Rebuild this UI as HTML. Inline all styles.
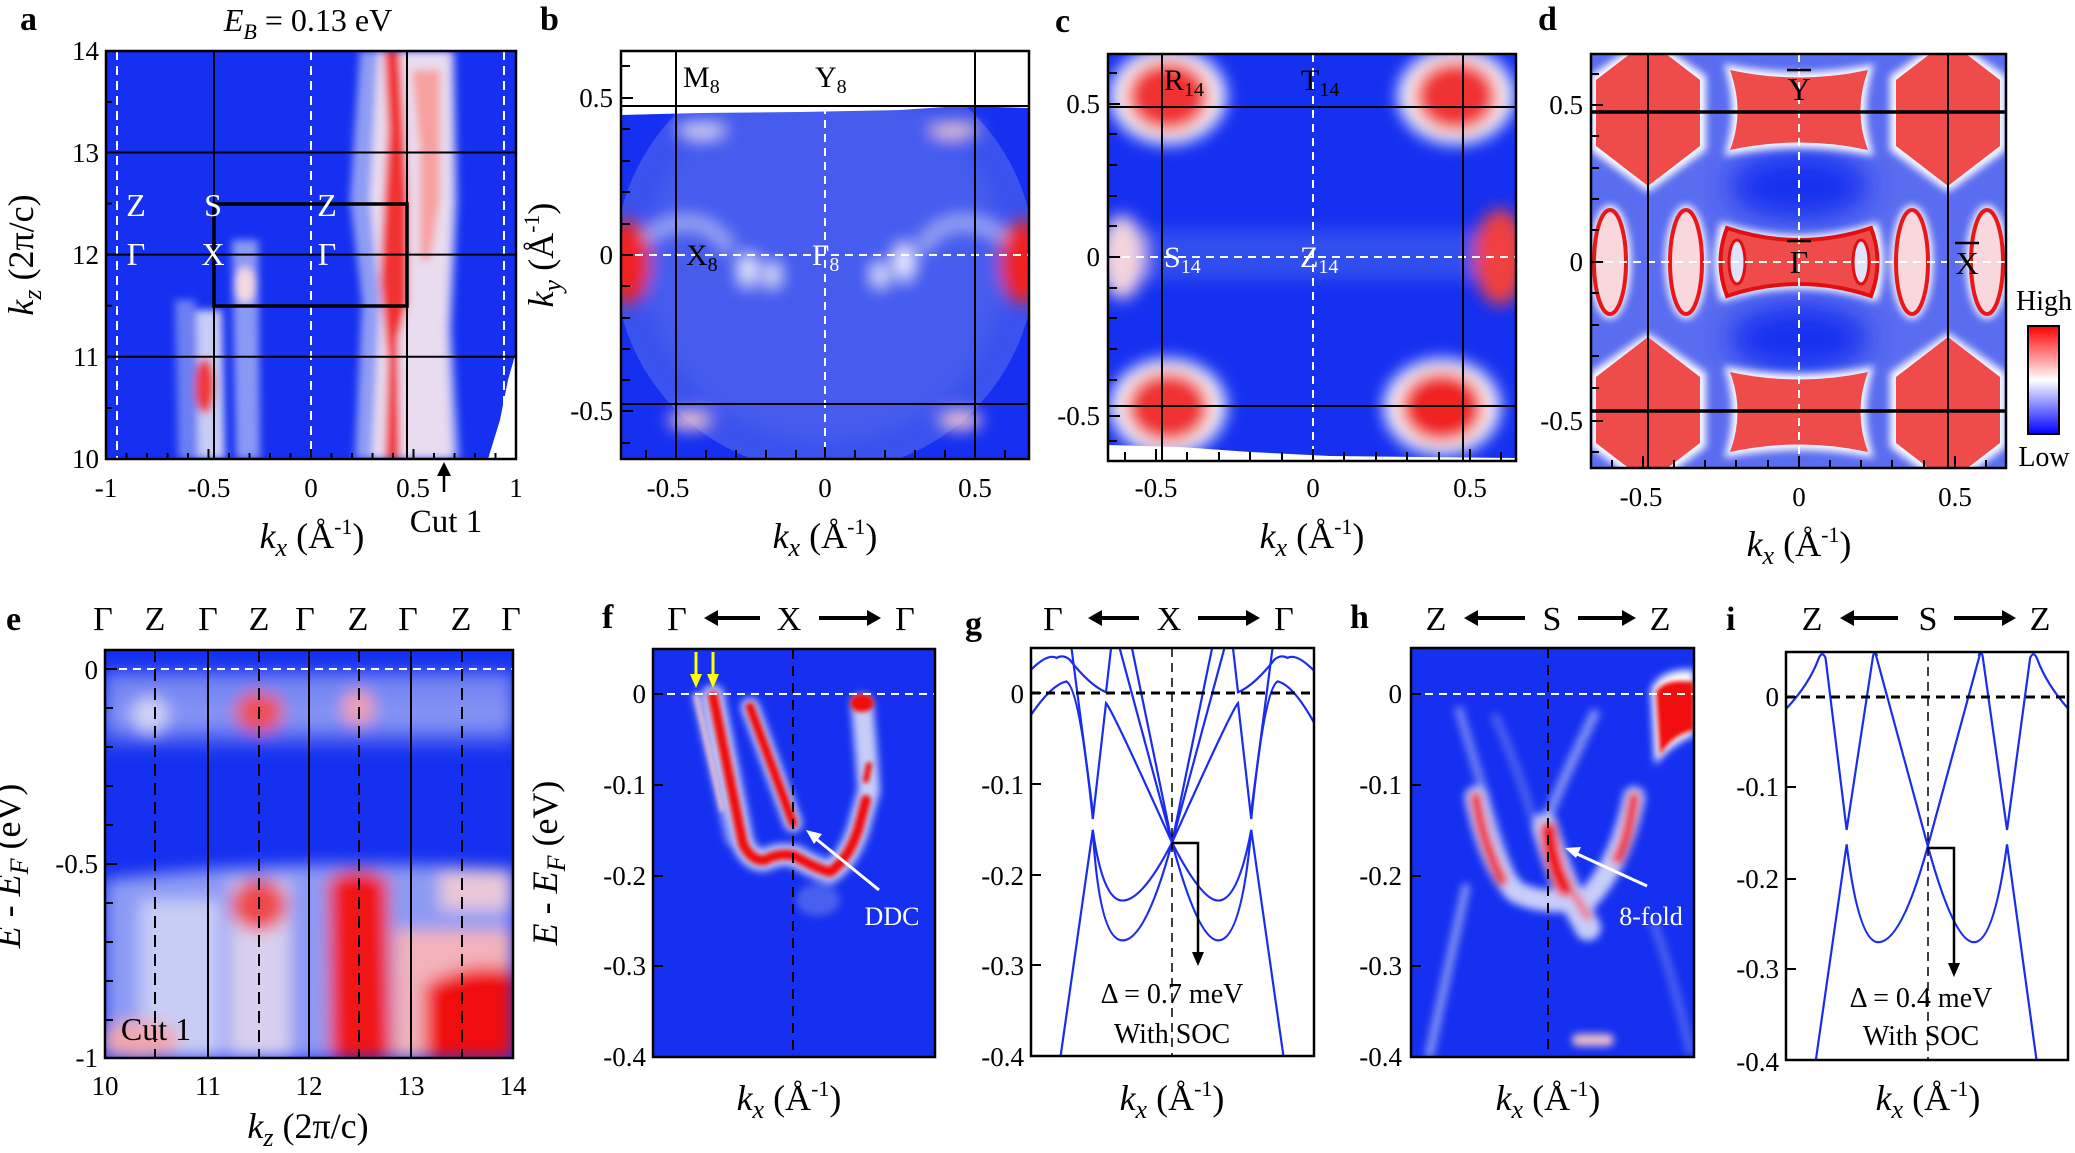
<!DOCTYPE html>
<html><head><meta charset="utf-8"><style>
html,body{margin:0;padding:0;background:#fff}
svg,svg text,svg tspan{font-family:"Liberation Serif","Times New Roman",serif}
.t{font-size:27px}
.pl{font-size:34px;font-weight:bold}
</style></head><body>
<svg width="2075" height="1148" viewBox="0 0 2075 1148" xmlns="http://www.w3.org/2000/svg" font-family="Liberation Serif, serif">
<defs>
<filter id="b2" x="-20%" y="-20%" width="140%" height="140%"><feGaussianBlur stdDeviation="2"/></filter>
<filter id="b4" x="-20%" y="-20%" width="140%" height="140%"><feGaussianBlur stdDeviation="4"/></filter>
<filter id="b8" x="-30%" y="-30%" width="160%" height="160%"><feGaussianBlur stdDeviation="8"/></filter>
<filter id="b14" x="-30%" y="-30%" width="160%" height="160%"><feGaussianBlur stdDeviation="14"/></filter>
<clipPath id="ca"><rect x="106" y="51" width="410" height="408"/></clipPath>
<clipPath id="cb"><rect x="621" y="51" width="408" height="408"/></clipPath>
<clipPath id="cc"><rect x="1108" y="54" width="408" height="407"/></clipPath>
<clipPath id="cd"><rect x="1591" y="54" width="415" height="414"/></clipPath>
<clipPath id="ce"><rect x="105" y="650" width="408" height="408"/></clipPath>
<clipPath id="cf"><rect x="653" y="649" width="282" height="408"/></clipPath>
<clipPath id="cg"><rect x="1031" y="648" width="283" height="408"/></clipPath>
<clipPath id="ch"><rect x="1411" y="648" width="283" height="409"/></clipPath>
<clipPath id="ci"><rect x="1786" y="652" width="282" height="408"/></clipPath>
<linearGradient id="cbar" x1="0" y1="0" x2="0" y2="1"><stop offset="0" stop-color="#f00"/><stop offset="0.5" stop-color="#fff"/><stop offset="1" stop-color="#00f"/></linearGradient>
<linearGradient id="etop" x1="0" y1="0" x2="0" y2="1"><stop offset="0" stop-color="#6a7cf2"/><stop offset="0.6" stop-color="#8a98f4"/><stop offset="1" stop-color="#1530f0"/></linearGradient>
</defs>

<!-- ===== Panel a ===== -->
<text class="pl" x="20" y="30">a</text>
<text x="308" y="31" text-anchor="middle" font-size="32"><tspan font-style="italic">E</tspan><tspan font-style="italic" font-size="22" dy="8">B</tspan><tspan dy="-8"> = 0.13 eV</tspan></text>
<g clip-path="url(#ca)">
<rect x="106" y="51" width="410" height="408" fill="#1530f0"/>
<g filter="url(#b4)">
<path d="M360,51 L455,51 L458,200 L452,330 L460,459 L355,459 L362,300 L350,200 Z" fill="#8f9cf4"/>
<path d="M378,51 L450,51 L452,200 L446,330 L452,459 L372,459 L380,300 L370,200 Z" fill="#e9dcef"/>
<path d="M384,51 L400,51 L405,140 L408,200 L408,300 L398,340 L400,459 L385,459 L388,360 L380,280 L384,200 L388,130 Z" fill="#f03030"/>
<path d="M412,70 L440,70 L440,200 L430,260 L420,260 L420,150 Z" fill="#f7a0a0"/>
<path d="M175,300 L195,300 L198,459 L178,459 Z" fill="#6c7ff2"/>
<path d="M196,310 L222,310 L225,459 L198,459 Z" fill="#c8cdf6"/>
<path d="M232,240 L258,240 L260,459 L236,459 Z" fill="#8a98f4"/>
<ellipse cx="205" cy="386" rx="10" ry="28" fill="#ee3b3b"/>
<ellipse cx="245" cy="285" rx="10" ry="18" fill="#f6d8e2"/>
</g>
<polygon points="516,352 516,459 488,459 500,420 508,380" fill="#fff"/>
</g>
<g stroke="#fff" stroke-width="2" stroke-dasharray="9,6">
<line x1="117" y1="51" x2="117" y2="459"/><line x1="311" y1="51" x2="311" y2="459"/><line x1="504" y1="51" x2="504" y2="459"/>
</g>
<g stroke="#000" stroke-width="2">
<line x1="214" y1="51" x2="214" y2="459"/><line x1="407" y1="51" x2="407" y2="459"/>
<line x1="106" y1="152.5" x2="516" y2="152.5"/><line x1="106" y1="254.6" x2="516" y2="254.6"/><line x1="106" y1="356.8" x2="516" y2="356.8"/>
</g>
<rect x="214" y="204" width="193" height="102" fill="none" stroke="#000" stroke-width="3.5"/>
<g fill="#fff" font-size="32" text-anchor="middle">
<text x="136" y="216">Z</text><text x="213" y="216">S</text><text x="327" y="216">Z</text>
<text x="136" y="265">Γ</text><text x="213" y="265">X</text><text x="327" y="265">Γ</text>
</g>
<rect x="106" y="51" width="410" height="408" fill="none" stroke="#000" stroke-width="2.5"/>
<g stroke="#000" stroke-width="2">
<path d="M106,51h10M106,102h6M106,152.5h10M106,203.5h6M106,254.6h10M106,305.7h6M106,356.8h10M106,408h6M106,459h10"/>
<path d="M106,459v-10M126.5,459v-6M147,459v-6M167.5,459v-6M188,459v-6M208.5,459v-10M229,459v-6M249.5,459v-6M270,459v-6M290.5,459v-6M311,459v-10M331.5,459v-6M352,459v-6M372.5,459v-6M393,459v-6M413.5,459v-10M434,459v-6M454.5,459v-6M475,459v-6M495.5,459v-6M516,459v-10"/>
</g>
<g class="t" text-anchor="end"><text x="99" y="60">14</text><text x="99" y="162">13</text><text x="99" y="264">12</text><text x="99" y="366">11</text><text x="99" y="468">10</text></g>
<g class="t" text-anchor="middle"><text x="106" y="497">-1</text><text x="209" y="497">-0.5</text><text x="311" y="497">0</text><text x="413" y="497">0.5</text><text x="516" y="497">1</text></g>
<text x="33" y="255" text-anchor="middle" font-size="36" transform="rotate(-90 33 255)"><tspan font-style="italic">k</tspan><tspan font-style="italic" font-size="26" dy="8">z</tspan><tspan dy="-8"> (2π/c)</tspan></text>
<text x="312" y="548" text-anchor="middle" font-size="36"><tspan font-style="italic">k</tspan><tspan font-style="italic" font-size="26" dy="8">x</tspan><tspan dy="-8"> (Å</tspan><tspan font-size="22" dy="-14">-1</tspan><tspan dy="14">)</tspan></text>
<text x="446" y="532" text-anchor="middle" font-size="33">Cut 1</text>
<line x1="444" y1="492" x2="444" y2="472" stroke="#000" stroke-width="2.5"/><polygon points="437,476 451,476 444,462" fill="#000"/>

<!-- ===== Panel b ===== -->
<text class="pl" x="540" y="30">b</text>
<g clip-path="url(#cb)">
<rect x="621" y="51" width="408" height="408" fill="#1530f0"/>
<circle cx="825" cy="262" r="210" fill="#3a52ee"/>
<g filter="url(#b8)">
<circle cx="825" cy="262" r="180" fill="#4a60ee" opacity="0.7"/>
<path d="M640,240 Q700,200 730,250" stroke="#b8c0f8" stroke-width="10" fill="none"/>
<path d="M920,250 Q950,200 1010,240" stroke="#b8c0f8" stroke-width="10" fill="none"/>
<ellipse cx="628" cy="262" rx="22" ry="42" fill="#f02020"/>
<ellipse cx="1022" cy="262" rx="22" ry="42" fill="#f02020"/>
<ellipse cx="748" cy="270" rx="8" ry="16" fill="#fff"/>
<ellipse cx="772" cy="275" rx="7" ry="12" fill="#fff"/>
<ellipse cx="880" cy="275" rx="7" ry="12" fill="#fff"/>
<ellipse cx="904" cy="262" rx="9" ry="18" fill="#fff"/>
<ellipse cx="690" cy="420" rx="22" ry="10" fill="#f0c0d0"/>
<ellipse cx="960" cy="420" rx="22" ry="10" fill="#f0c0d0"/>
<ellipse cx="700" cy="130" rx="25" ry="8" fill="#e0d8f0"/>
<ellipse cx="955" cy="130" rx="25" ry="8" fill="#f0c8d0"/>
</g>
<path d="M621,51 H1029 V108 L960,106 L900,110 L800,112 L700,113 L621,115 Z" fill="#fff"/>
</g>
<g stroke="#fff" stroke-width="2" stroke-dasharray="8,6"><line x1="825" y1="106" x2="825" y2="459"/><line x1="621" y1="255" x2="1029" y2="255"/></g>
<g stroke="#000" stroke-width="2"><line x1="676" y1="51" x2="676" y2="459"/><line x1="975" y1="51" x2="975" y2="459"/><line x1="621" y1="106" x2="1029" y2="106"/><line x1="621" y1="404" x2="1029" y2="404"/></g>
<rect x="621" y="51" width="408" height="408" fill="none" stroke="#000" stroke-width="2.5"/>
<g stroke="#000" stroke-width="2"><path d="M621,66h9M621,98h12M621,129h9M621,161h9M621,192h9M621,224h9M621,255h12M621,286h9M621,318h9M621,349h9M621,380h9M621,411h12M621,443h9"/>
<path d="M646,459v-9M676,459v-12M706,459v-9M736,459v-9M766,459v-9M796,459v-9M825,459v-12M855,459v-9M885,459v-9M915,459v-9M945,459v-9M975,459v-12M1005,459v-9"/></g>
<g class="t" text-anchor="end"><text x="613" y="107">0.5</text><text x="613" y="264">0</text><text x="613" y="420">-0.5</text></g>
<g class="t" text-anchor="middle"><text x="668" y="497">-0.5</text><text x="825" y="497">0</text><text x="975" y="497">0.5</text></g>
<g font-size="30"><text x="683" y="87">M<tspan font-size="20" dy="6">8</tspan></text><text x="815" y="87">Y<tspan font-size="20" dy="6">8</tspan></text>
<text x="686" y="265">X<tspan font-size="20" dy="6">8</tspan></text><text x="812" y="265" fill="#fff">Γ<tspan font-size="20" dy="6">8</tspan></text></g>
<text x="553" y="255" text-anchor="middle" font-size="36" transform="rotate(-90 553 255)"><tspan font-style="italic">k</tspan><tspan font-style="italic" font-size="26" dy="8">y</tspan><tspan dy="-8"> (Å</tspan><tspan font-size="22" dy="-14">-1</tspan><tspan dy="14">)</tspan></text>
<text x="825" y="548" text-anchor="middle" font-size="36"><tspan font-style="italic">k</tspan><tspan font-style="italic" font-size="26" dy="8">x</tspan><tspan dy="-8"> (Å</tspan><tspan font-size="22" dy="-14">-1</tspan><tspan dy="14">)</tspan></text>

<!-- ===== Panel c ===== -->
<text class="pl" x="1055" y="32">c</text>
<g clip-path="url(#cc)">
<rect x="1108" y="54" width="408" height="407" fill="#1530f0"/>
<g filter="url(#b8)">
<rect x="1108" y="230" width="408" height="50" fill="#3a55ee" opacity="0.8"/>
<ellipse cx="1168" cy="96" rx="58" ry="48" fill="#fff"/><ellipse cx="1456" cy="96" rx="58" ry="48" fill="#fff"/>
<ellipse cx="1168" cy="407" rx="58" ry="48" fill="#fff"/><ellipse cx="1442" cy="407" rx="58" ry="48" fill="#fff"/>
<ellipse cx="1168" cy="96" rx="42" ry="36" fill="#f03030"/><ellipse cx="1456" cy="96" rx="42" ry="36" fill="#f03030"/>
<ellipse cx="1168" cy="407" rx="42" ry="36" fill="#f03030"/><ellipse cx="1442" cy="407" rx="42" ry="36" fill="#f02020"/>
<ellipse cx="1122" cy="257" rx="22" ry="42" fill="#f3d4de"/>
<ellipse cx="1500" cy="257" rx="26" ry="48" fill="#f04040"/>
</g>
<path d="M1108,445 L1180,447 L1250,452 L1330,456 L1516,458 V461 H1108 Z" fill="#fff"/>
</g>
<g stroke="#fff" stroke-width="2" stroke-dasharray="8,6"><line x1="1313" y1="54" x2="1313" y2="461"/><line x1="1108" y1="257" x2="1516" y2="257"/></g>
<g stroke="#000" stroke-width="2"><line x1="1162" y1="54" x2="1162" y2="461"/><line x1="1463" y1="54" x2="1463" y2="461"/><line x1="1108" y1="107" x2="1516" y2="107"/><line x1="1108" y1="406" x2="1516" y2="406"/></g>
<rect x="1108" y="54" width="408" height="407" fill="none" stroke="#000" stroke-width="2.5"/>
<g stroke="#000" stroke-width="2"><path d="M1108,73h9M1108,104h12M1108,134h9M1108,165h9M1108,196h9M1108,226h9M1108,257h12M1108,288h9M1108,318h9M1108,349h9M1108,380h9M1108,416h12M1108,441h9"/>
<path d="M1125,461v-9M1156,461v-12M1187,461v-9M1219,461v-9M1250,461v-9M1282,461v-9M1313,461v-12M1344,461v-9M1376,461v-9M1407,461v-9M1439,461v-9M1470,461v-12M1501,461v-9"/></g>
<g class="t" text-anchor="end"><text x="1100" y="113">0.5</text><text x="1100" y="266">0</text><text x="1100" y="425">-0.5</text></g>
<g class="t" text-anchor="middle"><text x="1156" y="497">-0.5</text><text x="1313" y="497">0</text><text x="1470" y="497">0.5</text></g>
<g font-size="30"><text x="1164" y="90">R<tspan font-size="20" dy="6">14</tspan></text><text x="1301" y="90">T<tspan font-size="20" dy="6">14</tspan></text>
<text x="1164" y="267" fill="#fff">S<tspan font-size="20" dy="6">14</tspan></text><text x="1300" y="267" fill="#fff">Z<tspan font-size="20" dy="6">14</tspan></text></g>
<text x="1312" y="548" text-anchor="middle" font-size="36"><tspan font-style="italic">k</tspan><tspan font-style="italic" font-size="26" dy="8">x</tspan><tspan dy="-8"> (Å</tspan><tspan font-size="22" dy="-14">-1</tspan><tspan dy="14">)</tspan></text>

<!-- ===== Panel d ===== -->
<text class="pl" x="1538" y="30">d</text>
<g clip-path="url(#cd)">
<rect x="1591" y="54" width="415" height="414" fill="#5a6cf0"/>
<g filter="url(#b14)">
<ellipse cx="1799" cy="186" rx="70" ry="34" fill="#1530f0"/>
<ellipse cx="1799" cy="338" rx="70" ry="34" fill="#1530f0"/>
</g>
<g filter="url(#b4)" fill="#fff">
<path d="M1648,36 L1706,76 L1706,150 L1648,192 L1590,150 L1590,76 Z"/>
<path d="M1948,36 L2006,76 L2006,150 L1948,192 L1890,150 L1890,76 Z"/>
<path d="M1648,333 L1706,373 L1706,447 L1648,489 L1590,447 L1590,373 Z"/>
<path d="M1948,333 L2006,373 L2006,447 L1948,489 L1890,447 L1890,373 Z"/>
<path d="M1724,64 Q1799,80 1874,64 Q1858,112 1874,156 Q1799,140 1724,156 Q1740,112 1724,64 Z"/>
<path d="M1724,366 Q1799,382 1874,366 Q1858,412 1874,458 Q1799,442 1724,458 Q1740,412 1724,366 Z"/>
<path d="M1721,222 Q1799,248 1877,222 Q1890,262 1877,302 Q1799,276 1721,302 Q1708,262 1721,222 Z"/>
<ellipse cx="1610" cy="262" rx="21" ry="57"/><ellipse cx="1686" cy="262" rx="21" ry="57"/>
<ellipse cx="1912" cy="262" rx="21" ry="57"/><ellipse cx="1987" cy="262" rx="21" ry="57"/>
</g>
<g fill="#ef4b4b">
<path d="M1648,40 L1700,80 L1700,146 L1648,186 L1596,146 L1596,80 Z"/>
<path d="M1948,40 L2000,80 L2000,146 L1948,186 L1896,146 L1896,80 Z"/>
<path d="M1648,337 L1700,377 L1700,443 L1648,483 L1596,443 L1596,377 Z"/>
<path d="M1948,337 L2000,377 L2000,443 L1948,483 L1896,443 L1896,377 Z"/>
<path d="M1730,70 Q1799,85 1868,70 Q1853,112 1868,150 Q1799,135 1730,150 Q1745,112 1730,70 Z"/>
<path d="M1730,372 Q1799,387 1868,372 Q1853,412 1868,452 Q1799,437 1730,452 Q1745,412 1730,372 Z"/>
<path d="M1727,228 Q1799,252 1871,228 Q1884,262 1871,296 Q1799,272 1727,296 Q1714,262 1727,228 Z" stroke="#e01010" stroke-width="4"/>
</g>
<ellipse cx="1737" cy="262" rx="8" ry="22" fill="#dfe3fb" stroke="#e01010" stroke-width="3"/>
<ellipse cx="1861" cy="262" rx="8" ry="22" fill="#dfe3fb" stroke="#e01010" stroke-width="3"/>
<g fill="#f8d8dc" stroke="#e81818" stroke-width="4">
<ellipse cx="1610" cy="262" rx="16" ry="52"/><ellipse cx="1686" cy="262" rx="16" ry="52"/>
<ellipse cx="1912" cy="262" rx="16" ry="52"/><ellipse cx="1987" cy="262" rx="16" ry="52"/>
</g>
</g>
<g stroke="#fff" stroke-width="2" stroke-dasharray="8,6"><line x1="1799" y1="54" x2="1799" y2="468"/><line x1="1591" y1="262" x2="2006" y2="262"/></g>
<g stroke="#000" stroke-width="2"><line x1="1648" y1="54" x2="1648" y2="468"/><line x1="1948" y1="54" x2="1948" y2="468"/></g>
<g stroke="#000" stroke-width="3.5"><line x1="1591" y1="112" x2="2006" y2="112"/><line x1="1591" y1="411" x2="2006" y2="411"/></g>
<rect x="1591" y="54" width="415" height="414" fill="none" stroke="#000" stroke-width="2.5"/>
<g stroke="#000" stroke-width="2"><path d="M1591,105h12M1591,262h12M1591,421h12M1591,136h8M1591,168h8M1591,199h8M1591,230h8M1591,293h8M1591,325h8M1591,356h8M1591,388h8M1591,74h8M1591,452h8"/>
<path d="M1643,468v-12M1799,468v-12M1955,468v-12M1674,468v-8M1705,468v-8M1736,468v-8M1768,468v-8M1830,468v-8M1861,468v-8M1892,468v-8M1924,468v-8M1986,468v-8M1612,468v-8"/></g>
<g class="t" text-anchor="end"><text x="1583" y="114">0.5</text><text x="1583" y="271">0</text><text x="1583" y="430">-0.5</text></g>
<g class="t" text-anchor="middle"><text x="1641" y="506">-0.5</text><text x="1799" y="506">0</text><text x="1955" y="506">0.5</text></g>
<g font-size="32" text-anchor="middle"><text x="1799" y="100">Y</text><text x="1799" y="273">Γ</text><text x="1967" y="274">X</text></g>
<g stroke="#000" stroke-width="2.5"><line x1="1787" y1="70" x2="1811" y2="70"/><line x1="1787" y1="241" x2="1811" y2="241"/><line x1="1955" y1="243" x2="1979" y2="243"/></g>
<text x="1799" y="556" text-anchor="middle" font-size="36"><tspan font-style="italic">k</tspan><tspan font-style="italic" font-size="26" dy="8">x</tspan><tspan dy="-8"> (Å</tspan><tspan font-size="22" dy="-14">-1</tspan><tspan dy="14">)</tspan></text>
<rect x="2028" y="326" width="31" height="108" fill="url(#cbar)" stroke="#000" stroke-width="2"/>
<text x="2044" y="310" text-anchor="middle" font-size="28">High</text>
<text x="2044" y="466" text-anchor="middle" font-size="28">Low</text>

<!-- ===== Panel e ===== -->
<text class="pl" x="6" y="630">e</text>
<g font-size="34" text-anchor="middle"><text x="103" y="630">Γ</text><text x="155" y="630">Z</text><text x="208" y="630">Γ</text><text x="259" y="630">Z</text><text x="305" y="630">Γ</text><text x="358" y="630">Z</text><text x="408" y="630">Γ</text><text x="461" y="630">Z</text><text x="511" y="630">Γ</text></g>
<g clip-path="url(#ce)">
<rect x="105" y="650" width="408" height="408" fill="#1530f0"/>
<g filter="url(#b8)">
<rect x="105" y="672" width="408" height="80" fill="url(#etop)"/>
<path d="M105,880 Q300,855 513,870 V1058 H105 Z" fill="#8c9af4"/>
<rect x="140" y="900" width="80" height="158" fill="#c8cdf6"/>
<rect x="230" y="880" width="60" height="178" fill="#d8d0ef"/>
<ellipse cx="140" cy="1040" rx="40" ry="20" fill="#f0a8b0"/>
<ellipse cx="259" cy="712" rx="24" ry="20" fill="#f05050"/>
<ellipse cx="358" cy="708" rx="16" ry="18" fill="#f0a0b0"/>
<ellipse cx="150" cy="715" rx="18" ry="18" fill="#d0d4f6"/>
<ellipse cx="259" cy="905" rx="28" ry="26" fill="#ee4a4a"/>
<path d="M328,880 Q358,860 388,880 L392,1058 L330,1058 Z" fill="#f01818"/>
<rect x="395" y="930" width="118" height="128" fill="#f2b2ba"/>
<path d="M425,985 Q470,960 513,970 V1058 H425 Z" fill="#f01010"/>
<rect x="440" y="870" width="73" height="40" fill="#e8c8d8"/>
</g>
</g>
<g stroke="#fff" stroke-width="2" stroke-dasharray="8,6"><line x1="105" y1="669" x2="513" y2="669"/></g>
<g stroke="#000" stroke-width="2"><line x1="208" y1="650" x2="208" y2="1058"/><line x1="309" y1="650" x2="309" y2="1058"/><line x1="411" y1="650" x2="411" y2="1058"/></g>
<g stroke="#000" stroke-width="2" stroke-dasharray="12,7"><line x1="155" y1="650" x2="155" y2="1058"/><line x1="259" y1="650" x2="259" y2="1058"/><line x1="359" y1="650" x2="359" y2="1058"/><line x1="462" y1="650" x2="462" y2="1058"/></g>
<rect x="105" y="650" width="408" height="408" fill="none" stroke="#000" stroke-width="2.5"/>
<g stroke="#000" stroke-width="2"><path d="M105,669h12M105,708h8M105,747h8M105,786h8M105,825h8M105,864h12M105,903h8M105,942h8M105,981h8M105,1020h8"/>
<path d="M208,1058v-10M309,1058v-10M411,1058v-10"/></g>
<g class="t" text-anchor="end"><text x="98" y="679">0</text><text x="98" y="873">-0.5</text><text x="98" y="1067">-1</text></g>
<g class="t" text-anchor="middle"><text x="105" y="1095">10</text><text x="208" y="1095">11</text><text x="309" y="1095">12</text><text x="411" y="1095">13</text><text x="513" y="1095">14</text></g>
<text x="156" y="1040" text-anchor="middle" font-size="32">Cut 1</text>
<text x="20" y="866" text-anchor="middle" font-size="36" transform="rotate(-90 20 866)"><tspan font-style="italic">E</tspan><tspan> - </tspan><tspan font-style="italic">E</tspan><tspan font-style="italic" font-size="26" dy="8">F</tspan><tspan dy="-8"> (eV)</tspan></text>
<text x="308" y="1138" text-anchor="middle" font-size="36"><tspan font-style="italic">k</tspan><tspan font-style="italic" font-size="26" dy="8">z</tspan><tspan dy="-8"> (2π/c)</tspan></text>

<g stroke="#000" stroke-width="4">
<line x1="716" y1="618" x2="760" y2="618"/><line x1="819" y1="618" x2="869" y2="618"/>
<line x1="1100" y1="618" x2="1139" y2="618"/><line x1="1198" y1="618" x2="1248" y2="618"/>
<line x1="1476" y1="618" x2="1525" y2="618"/><line x1="1578" y1="618" x2="1624" y2="618"/>
<line x1="1852" y1="618" x2="1898" y2="618"/><line x1="1954" y1="618" x2="2004" y2="618"/>
</g>
<g fill="#000">
<polygon points="704,618 718,610 718,626"/><polygon points="881,618 867,610 867,626"/>
<polygon points="1088,618 1102,610 1102,626"/><polygon points="1260,618 1246,610 1246,626"/>
<polygon points="1464,618 1478,610 1478,626"/><polygon points="1636,618 1622,610 1622,626"/>
<polygon points="1840,618 1854,610 1854,626"/><polygon points="2016,618 2002,610 2002,626"/>
</g>

<!-- ===== Panel f ===== -->
<text class="pl" x="602" y="628">f</text>
<g font-size="34" text-anchor="middle"><text x="677" y="630">Γ</text><text x="789" y="630">X</text><text x="905" y="630">Γ</text></g>
<g clip-path="url(#cf)">
<rect x="653" y="649" width="282" height="408" fill="#1530f0"/>
<g filter="url(#b4)" fill="none" stroke-linecap="round" stroke-linejoin="round">
<path d="M713,696 L743,844 Q752,862 765,860 Q780,852 795,856 Q815,868 830,872 Q848,860 858,830 L869,790 L866,750 L862,705" stroke="#c8cdf8" stroke-width="22"/>
<path d="M750,707 L793,823" stroke="#c8cdf8" stroke-width="18"/>
<path d="M696,696 L730,841" stroke="#8a98f4" stroke-width="8"/>
<ellipse cx="818" cy="900" rx="22" ry="16" fill="#4a60ee" stroke="none"/>
</g>
<g filter="url(#b2)" fill="none" stroke-linecap="round" stroke-linejoin="round">
<path d="M713,696 L743,844 Q752,862 765,860 Q780,852 795,856 Q815,868 830,872 Q848,860 858,830 L866,800" stroke="#f01010" stroke-width="10"/>
<path d="M750,707 L793,823" stroke="#f01010" stroke-width="9"/>
<path d="M866,780 L869,765" stroke="#f01010" stroke-width="6"/>
<path d="M696,696 L722,810" stroke="#f6c6cc" stroke-width="4"/>
<ellipse cx="862" cy="703" rx="12" ry="9" fill="#f01010" stroke="none"/>
</g>
</g>
<line x1="653" y1="694" x2="935" y2="694" stroke="#fff" stroke-width="2" stroke-dasharray="8,6"/>
<line x1="793" y1="649" x2="793" y2="1057" stroke="#000" stroke-width="2" stroke-dasharray="10,7"/>
<rect x="653" y="649" width="282" height="408" fill="none" stroke="#000" stroke-width="2.5"/>
<g stroke="#000" stroke-width="2"><path d="M653,694h10M653,785h10M653,876h10M653,966h10"/></g>
<g stroke="#ff0" stroke-width="3"><line x1="696" y1="652" x2="696" y2="676"/><line x1="713" y1="652" x2="713" y2="676"/></g>
<g fill="#ff0"><polygon points="690,674 702,674 696,688"/><polygon points="707,674 719,674 713,688"/></g>
<line x1="879" y1="890" x2="815" y2="838" stroke="#fff" stroke-width="3"/>
<polygon points="806,830 822,834 814,844" fill="#fff"/>
<text x="892" y="925" text-anchor="middle" font-size="26" fill="#fff">DDC</text>
<g class="t" text-anchor="end"><text x="646" y="703">0</text><text x="646" y="794">-0.1</text><text x="646" y="885">-0.2</text><text x="646" y="975">-0.3</text><text x="646" y="1066">-0.4</text></g>
<text x="557" y="863" text-anchor="middle" font-size="36" transform="rotate(-90 557 863)"><tspan font-style="italic">E</tspan><tspan> - </tspan><tspan font-style="italic">E</tspan><tspan font-style="italic" font-size="26" dy="8">F</tspan><tspan dy="-8"> (eV)</tspan></text>
<text x="789" y="1110" text-anchor="middle" font-size="36"><tspan font-style="italic">k</tspan><tspan font-style="italic" font-size="26" dy="8">x</tspan><tspan dy="-8"> (Å</tspan><tspan font-size="22" dy="-14">-1</tspan><tspan dy="14">)</tspan></text>

<!-- ===== Panel g ===== -->
<text class="pl" x="965" y="635">g</text>
<g font-size="34" text-anchor="middle"><text x="1053" y="630">Γ</text><text x="1169" y="630">X</text><text x="1284" y="630">Γ</text></g>
<g clip-path="url(#cg)">
<g transform="translate(1040,580) scale(0.6601,0.3622)" fill="none" stroke="#1a2cf0" stroke-width="2.2">
<path vector-effect="non-scaling-stroke" d="M115,150 L200,725 Q245,885 270,885 Q300,885 320,690 L370,1330"/>
<path vector-effect="non-scaling-stroke" d="M285,150 L200,725 Q155,885 125,885 Q95,885 80,690 L30,1330"/>
<path vector-effect="non-scaling-stroke" d="M135,150 L200,725 Q240,995 270,995 Q305,995 320,690"/>
<path vector-effect="non-scaling-stroke" d="M265,150 L200,725 Q160,995 125,995 Q90,995 80,690"/>
<path vector-effect="non-scaling-stroke" d="M-20,390 Q15,290 40,280 Q60,300 80,660 L100,340 Q110,360 200,725"/>
<path vector-effect="non-scaling-stroke" d="M420,410 Q385,290 360,280 Q340,300 320,660 L300,340 Q290,360 200,725"/>
<path vector-effect="non-scaling-stroke" d="M45,150 L80,640"/>
<path vector-effect="non-scaling-stroke" d="M355,150 L320,640"/>
<path vector-effect="non-scaling-stroke" d="M-20,260 Q10,200 25,215 Q35,205 45,220 Q75,290 100,310 L110,150"/>
<path vector-effect="non-scaling-stroke" d="M420,260 Q390,200 375,215 Q365,205 355,220 Q325,290 300,310 L290,150"/>
</g>
</g>
<line x1="1031" y1="693" x2="1314" y2="693" stroke="#000" stroke-width="3" stroke-dasharray="9,6"/>
<line x1="1172" y1="648" x2="1172" y2="1056" stroke="#000" stroke-width="1.5" stroke-dasharray="9,6"/>
<rect x="1031" y="648" width="283" height="408" fill="none" stroke="#000" stroke-width="2.5"/>
<g stroke="#000" stroke-width="2"><path d="M1031,693h10M1031,784h10M1031,875h10M1031,965h10"/></g>
<path d="M1172,843 H1198 V955" fill="none" stroke="#000" stroke-width="2.5"/>
<polygon points="1192,952 1204,952 1198,966" fill="#000"/>
<g font-size="28" text-anchor="middle"><text x="1172" y="1003">Δ = 0.7 meV</text><text x="1172" y="1043">With SOC</text></g>
<g class="t" text-anchor="end"><text x="1024" y="703">0</text><text x="1024" y="794">-0.1</text><text x="1024" y="885">-0.2</text><text x="1024" y="975">-0.3</text><text x="1024" y="1066">-0.4</text></g>
<text x="1172" y="1110" text-anchor="middle" font-size="36"><tspan font-style="italic">k</tspan><tspan font-style="italic" font-size="26" dy="8">x</tspan><tspan dy="-8"> (Å</tspan><tspan font-size="22" dy="-14">-1</tspan><tspan dy="14">)</tspan></text>

<!-- ===== Panel h ===== -->
<text class="pl" x="1350" y="628">h</text>
<g font-size="34" text-anchor="middle"><text x="1436" y="630">Z</text><text x="1552" y="630">S</text><text x="1660" y="630">Z</text></g>
<g clip-path="url(#ch)">
<rect x="1411" y="648" width="283" height="409" fill="#1530f0"/>
<g filter="url(#b4)"><g transform="translate(1040,580) scale(0.6601,0.3622)" fill="none" stroke-linecap="round">
<path vector-effect="non-scaling-stroke" d="M635,360 Q690,700 720,850" stroke="#7080f2" stroke-width="9"/>
<path vector-effect="non-scaling-stroke" d="M690,380 Q720,500 745,650" stroke="#4a60ee" stroke-width="9"/>
<path vector-effect="non-scaling-stroke" d="M840,370 Q800,520 770,650" stroke="#8090f3" stroke-width="10"/>
<path vector-effect="non-scaling-stroke" d="M645,850 L590,1310" stroke="#8090f3" stroke-width="9"/>
<path vector-effect="non-scaling-stroke" d="M930,950 Q960,1100 985,1300" stroke="#4a60ee" stroke-width="9"/>
<path vector-effect="non-scaling-stroke" d="M660,600 Q680,780 720,860 Q760,900 830,880 Q880,780 900,600" stroke="#c8cdf8" stroke-width="22"/>
<path vector-effect="non-scaling-stroke" d="M765,680 Q780,780 800,860 L830,960" stroke="#c8cdf8" stroke-width="26"/>
<path vector-effect="non-scaling-stroke" d="M660,600 Q670,720 700,830" stroke="#f01010" stroke-width="11"/>
<path vector-effect="non-scaling-stroke" d="M900,600 Q890,720 875,770" stroke="#f01010" stroke-width="11"/>
<path vector-effect="non-scaling-stroke" d="M770,690 Q775,780 795,850" stroke="#f01010" stroke-width="17"/>
<path vector-effect="non-scaling-stroke" d="M810,870 L830,930" stroke="#f07080" stroke-width="8"/>
<path vector-effect="non-scaling-stroke" d="M815,1270 L860,1270" stroke="#f0c0c8" stroke-width="12"/>
</g>
<path d="M1651,690 Q1660,668 1694,670 V735 Q1670,745 1655,765 Z" fill="#fff"/>
</g>
<path d="M1656,692 Q1664,678 1694,682 V730 Q1672,735 1660,755 Z" fill="#f01010" filter="url(#b2)"/>
</g>
<line x1="1411" y1="694" x2="1694" y2="694" stroke="#fff" stroke-width="2" stroke-dasharray="8,6"/>
<line x1="1548" y1="648" x2="1548" y2="1057" stroke="#000" stroke-width="2" stroke-dasharray="10,7"/>
<rect x="1411" y="648" width="283" height="409" fill="none" stroke="#000" stroke-width="2.5"/>
<g stroke="#000" stroke-width="2"><path d="M1411,694h10M1411,785h10M1411,876h10M1411,966h10"/></g>
<line x1="1647" y1="886" x2="1575" y2="853" stroke="#fff" stroke-width="3"/>
<polygon points="1565,848 1581,847 1576,858" fill="#fff"/>
<text x="1651" y="925" text-anchor="middle" font-size="26" fill="#fff">8-fold</text>
<g class="t" text-anchor="end"><text x="1402" y="703">0</text><text x="1402" y="794">-0.1</text><text x="1402" y="885">-0.2</text><text x="1402" y="975">-0.3</text><text x="1402" y="1066">-0.4</text></g>
<text x="1548" y="1110" text-anchor="middle" font-size="36"><tspan font-style="italic">k</tspan><tspan font-style="italic" font-size="26" dy="8">x</tspan><tspan dy="-8"> (Å</tspan><tspan font-size="22" dy="-14">-1</tspan><tspan dy="14">)</tspan></text>

<!-- ===== Panel i ===== -->
<text class="pl" x="1726" y="630">i</text>
<g font-size="34" text-anchor="middle"><text x="1812" y="630">Z</text><text x="1928" y="630">S</text><text x="2040" y="630">Z</text></g>
<g clip-path="url(#ci)">
<g transform="translate(1040,580) scale(0.6601,0.3622)" fill="none" stroke="#1a2cf0" stroke-width="2.2">
<path vector-effect="non-scaling-stroke" d="M1265,198 L1345,735 Q1385,1000 1415,1000 Q1445,1000 1465,730 L1510,1330"/>
<path vector-effect="non-scaling-stroke" d="M1425,198 L1345,735 Q1305,1000 1270,1000 Q1240,1000 1222,730 L1175,1330"/>
<path vector-effect="non-scaling-stroke" d="M1128,360 Q1165,290 1180,215 Q1185,195 1190,215 L1222,690 L1262,210 Q1265,190 1268,210"/>
<path vector-effect="non-scaling-stroke" d="M1560,360 Q1525,290 1510,215 Q1505,195 1500,215 L1465,690 L1428,210 Q1425,190 1422,210"/>
</g>
</g>
<line x1="1786" y1="697" x2="2068" y2="697" stroke="#000" stroke-width="3" stroke-dasharray="9,6"/>
<line x1="1928" y1="652" x2="1928" y2="1060" stroke="#000" stroke-width="1.5" stroke-dasharray="9,6"/>
<rect x="1786" y="652" width="282" height="408" fill="none" stroke="#000" stroke-width="2.5"/>
<g stroke="#000" stroke-width="2"><path d="M1786,697h10M1786,787h10M1786,879h10M1786,969h10"/></g>
<path d="M1928,848 H1954 V966" fill="none" stroke="#000" stroke-width="2.5"/>
<polygon points="1948,963 1960,963 1954,977" fill="#000"/>
<g font-size="28" text-anchor="middle"><text x="1921" y="1007">Δ = 0.4 meV</text><text x="1921" y="1045">With SOC</text></g>
<g class="t" text-anchor="end"><text x="1779" y="706">0</text><text x="1779" y="796">-0.1</text><text x="1779" y="888">-0.2</text><text x="1779" y="978">-0.3</text><text x="1779" y="1071">-0.4</text></g>
<text x="1928" y="1110" text-anchor="middle" font-size="36"><tspan font-style="italic">k</tspan><tspan font-style="italic" font-size="26" dy="8">x</tspan><tspan dy="-8"> (Å</tspan><tspan font-size="22" dy="-14">-1</tspan><tspan dy="14">)</tspan></text>
</svg>
</body></html>
